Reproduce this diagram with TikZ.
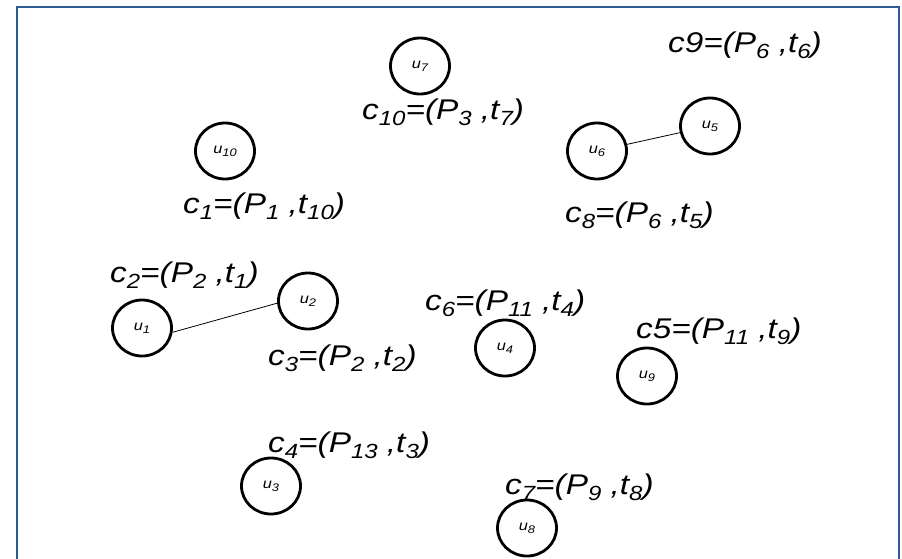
\documentclass[tikz,border=0pt]{standalone}
\usepackage{fontspec}
\setmainfont{Liberation Sans}
\usetikzlibrary{shapes.geometric}
% lowered subscripts for the pair labels and the agent names
\newcommand\lsub[1]{\raisebox{-6pt}{\fontsize{20.5}{20.5}\selectfont #1}}
\newcommand\usub[1]{\raisebox{-3pt}{\fontsize{11}{11}\selectfont #1}}
% slightly widened lettering
\newcommand\wide[1]{\scalebox{1.17}[1]{#1}}
\definecolor{framecol}{HTML}{2E5A94}
\begin{document}
\begin{tikzpicture}[x=1pt,y=-1pt,
  agent/.style={ellipse,draw,line width=2.8pt,minimum width=59pt,minimum height=56pt,
    inner sep=0pt,font=\itshape\fontsize{14}{14}\selectfont},
  pair/.style={anchor=base west,inner sep=0pt,font=\itshape\fontsize{28.5}{28.5}\selectfont},
  link/.style={line width=0.8pt},
  frame/.style={draw=framecol,line width=2.6pt}]
\useasboundingbox (0,0) rectangle (902,558);
\fill[white] (0,0) rectangle (902,558);
\draw[frame] (17,562) -- (17,7) -- (899,7) -- (899,562);

% agents
\node[agent] (u10) at (225,151) {\wide{u\usub{10}}};
\node[agent] (u7)  at (420,66)  {\wide{u\usub{7}}};
\node[agent] (u5)  at (710,126) {\wide{u\usub{5}}};
\node[agent] (u6)  at (597,151) {\wide{u\usub{6}}};
\node[agent] (u1)  at (142,328) {\wide{u\usub{1}}};
\node[agent] (u2)  at (308,301) {\wide{u\usub{2}}};
\node[agent] (u4)  at (505,348) {\wide{u\usub{4}}};
\node[agent] (u9)  at (647,376) {\wide{u\usub{9}}};
\node[agent] (u3)  at (271,486) {\wide{u\usub{3}}};
\node[agent] (u8)  at (527,528) {\wide{u\usub{8}}};

% links between agents
\draw[link] (u1.-8) -- (u2.184);
\draw[link] (u6) -- (u5);

% pair labels
\node[pair] (c10) at (362,119) {\wide{c\lsub{10}=(P\lsub{3} ,t\lsub{7})}};
\node[pair] (c1)  at (183,213) {\wide{c\lsub{1}=(P\lsub{1} ,t\lsub{10})}};
\node[pair] (c9)  at (668,52)  {\wide{c9=(P\lsub{6} ,t\lsub{6})}};
\node[pair] (c8)  at (565,222) {\wide{c\lsub{8}=(P\lsub{6} ,t\lsub{5})}};
\node[pair] (c2)  at (110,282) {\wide{c\lsub{2}=(P\lsub{2} ,t\lsub{1})}};
\node[pair] (c3)  at (268,365) {\wide{c\lsub{3}=(P\lsub{2} ,t\lsub{2})}};
\node[pair] (c6)  at (425,310) {\wide{c\lsub{6}=(P\lsub{11} ,t\lsub{4})}};
\node[pair] (c5)  at (636,338) {\wide{c5=(P\lsub{11} ,t\lsub{9})}};
\node[pair] (c4)  at (268,452) {\wide{c\lsub{4}=(P\lsub{13} ,t\lsub{3})}};
\node[pair] (c7)  at (505,494) {\wide{c\lsub{7}=(P\lsub{9} ,t\lsub{8})}};
\end{tikzpicture}
\end{document}
